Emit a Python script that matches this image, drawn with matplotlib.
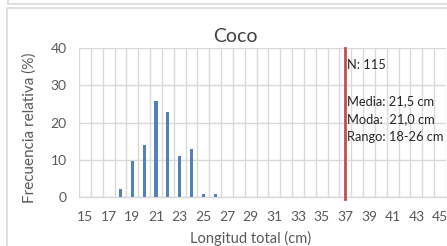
import numpy as np
import matplotlib
matplotlib.use('Agg')
import matplotlib.pyplot as plt
from matplotlib.patches import Rectangle
from matplotlib.lines import Line2D

plt.rcParams['font.family'] = ['Lato', 'DejaVu Sans']

# data
lengths = list(range(15, 46))
freq_pct = [0, 0, 0, 2.1, 9.7, 14.0, 25.8, 22.7, 11.0, 12.9, 0.9, 0.9,
            0, 0, 0, 0, 0, 0, 0, 0, 0, 0, 0, 0, 0, 0, 0, 0, 0, 0, 0]
tick_labels = [str(v) if (v - 15) % 2 == 0 else '' for v in lengths]
size_line = 37
stats_text = ['N: 115', '', 'Media: 21,5 cm', 'Moda:  21,0 cm', 'Rango: 18-26 cm']

W, H = 447, 246
fig = plt.figure(figsize=(W / 100, H / 100), dpi=100)
fig.patch.set_facecolor('white')

grid_c = '#D9D9D9'
text_c = '#595959'

# chart frames (this panel and the bottom of the one above)
fig.add_artist(Rectangle((7 / W, -0.1), 1.0, 1 - 8 / H + 0.1, transform=fig.transFigure,
                         fill=False, edgecolor=grid_c, linewidth=1.2))
fig.add_artist(Line2D([8 / W, 1.0], [1 - 4 / H, 1 - 4 / H], transform=fig.transFigure,
                      color=grid_c, linewidth=1.2))
fig.add_artist(Line2D([8 / W, 8 / W], [1 - 4 / H, 1.0], transform=fig.transFigure,
                      color=grid_c, linewidth=1.2))
# x label of the chart above, mostly cut off
fig.text(251 / W, 1 + 3 / H, 'Longitud total (cm)', ha='center', va='baseline',
         fontsize=10.5, color=text_c)

ax = fig.add_axes([79 / W, 1 - 197 / H, (446 - 79) / W, (197 - 48) / H])
x = np.arange(len(lengths))
ax.bar(x, freq_pct, width=0.27, color='#4F81BD', zorder=3)
ax.axvline(lengths.index(size_line), color='#C0504D', linewidth=2, zorder=4, ymin=-0.015, clip_on=False)

ax.set_xlim(-0.5, len(lengths) - 0.5)
ax.set_ylim(0, 40)
ax.set_yticks([0, 10, 20, 30, 40])
ax.set_xticks(x)
ax.set_xticklabels(tick_labels)
ax.set_xticks(np.arange(-0.5, len(lengths), 1), minor=True)
ax.tick_params(axis='both', which='both', length=0, labelsize=10, colors=text_c)
ax.tick_params(axis='x', pad=10)
ax.tick_params(axis='y', pad=9)
ax.grid(True, axis='y', which='major', color=grid_c, linewidth=1, zorder=0)
ax.grid(True, axis='x', which='minor', color=grid_c, linewidth=1, zorder=0)
ax.grid(False, axis='x', which='major')
for s in ['top', 'left', 'right']:
    ax.spines[s].set_visible(False)
ax.spines['bottom'].set_color(grid_c)
ax.spines['bottom'].set_linewidth(1)

fig.text(235 / W, 1 - 36 / H, 'Coco', ha='center', va='center', fontsize=14, color='#404040')
fig.text(251 / W, 1 - 238 / H, 'Longitud total (cm)', ha='center', va='center', fontsize=10.5, color=text_c)
fig.text(30 / W, 1 - 128 / H, 'Frecuencia relativa (%)', ha='center', va='center',
         rotation=90, fontsize=11, color=text_c)

ys = [65, 83, 101, 119, 137]
for t, yy in zip(stats_text, ys):
    if t:
        fig.text(347 / W, 1 - yy / H, t, ha='left', va='center', fontsize=9.3, color='#262626')

fig.savefig('out.png', dpi=100)
